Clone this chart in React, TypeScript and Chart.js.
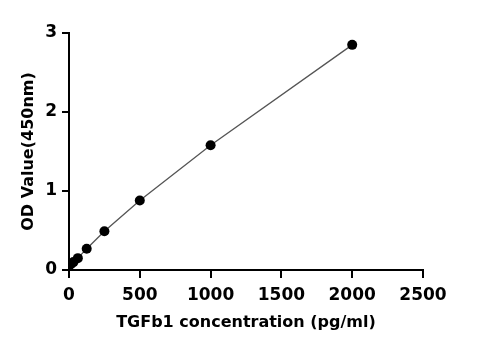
import React, { useEffect, useRef } from "react";
import { Chart, registerables } from "chart.js";

Chart.register(...registerables);

// Standard curve: TGFb1 concentration (pg/ml) vs. optical density at 450 nm
const concentrations = [0, 15.63, 31.25, 62.5, 125, 250, 500, 1000, 2000];
const odValues = [0.05, 0.08, 0.1, 0.15, 0.27, 0.49, 0.88, 1.58, 2.85];

const xTicks = [0, 500, 1000, 1500, 2000, 2500];
const yTicks = [0, 1, 2, 3];

const xTitle = "TGFb1 concentration (pg/ml)";
const yTitle = "OD Value(450nm)";

const FONT = "'DejaVu Sans', 'Liberation Sans', Arial, sans-serif";

// Outward tick marks on both axes, placed through the scales
const tickMarks = {
  id: "tickMarks",
  afterDatasetsDraw(chart: any) {
    const { ctx, chartArea, scales } = chart;
    ctx.save();
    ctx.strokeStyle = "#000";
    ctx.lineWidth = 2;
    ctx.beginPath();
    for (const t of scales.x.ticks) {
      const px = Math.round(scales.x.getPixelForValue(t.value));
      ctx.moveTo(px, chartArea.bottom);
      ctx.lineTo(px, chartArea.bottom + 8);
    }
    for (const t of scales.y.ticks) {
      const py = Math.round(scales.y.getPixelForValue(t.value));
      ctx.moveTo(chartArea.left, py);
      ctx.lineTo(chartArea.left - 7, py);
    }
    ctx.stroke();
    ctx.restore();
  },
};

export default function App() {
  const canvasRef = useRef<HTMLCanvasElement | null>(null);

  useEffect(() => {
    if (!canvasRef.current) return;
    const points = concentrations.map((c, i) => ({ x: c, y: odValues[i] }));
    const chart = new Chart(canvasRef.current, {
      type: "scatter",
      data: {
        datasets: [
          {
            data: points,
            showLine: true,
            borderColor: "#555555",
            borderWidth: 1.3,
            backgroundColor: "#000000",
            pointBackgroundColor: "#000000",
            pointBorderColor: "#000000",
            pointRadius: 5,
            pointBorderWidth: 0,
            tension: 0,
          },
        ],
      },
      plugins: [tickMarks],
      options: {
        responsive: false,
        animation: false,
        layout: { padding: { left: 0, right: 55, top: 33, bottom: 0 } },
        plugins: { legend: { display: false }, tooltip: { enabled: false } },
        scales: {
          x: {
            type: "linear",
            min: xTicks[0],
            max: xTicks[xTicks.length - 1],
            afterBuildTicks: (scale: any) => {
              scale.ticks = xTicks.map((v) => ({ value: v }));
            },
            afterFit: (scale: any) => {
              scale.height = 80;
            },
            ticks: {
              color: "#000",
              padding: 7,
              callback: (v: any) => String(v),
              font: { family: FONT, size: 17, weight: "bold" },
            },
            grid: { display: false },
            border: { display: true, color: "#000", width: 2 },
            title: {
              display: true,
              text: xTitle,
              color: "#000",
              padding: { top: 0, bottom: 18 },
              font: { family: FONT, size: 16, weight: "bold" },
            },
          },
          y: {
            type: "linear",
            min: yTicks[0],
            max: yTicks[yTicks.length - 1],
            afterBuildTicks: (scale: any) => {
              scale.ticks = yTicks.map((v) => ({ value: v }));
            },
            afterFit: (scale: any) => {
              scale.width = 69;
            },
            ticks: {
              color: "#000",
              padding: 4,
              callback: (v: any) => String(v),
              font: { family: FONT, size: 17, weight: "bold" },
            },
            grid: { display: false },
            border: { display: true, color: "#000", width: 2 },
            title: {
              display: true,
              text: yTitle,
              color: "#000",
              padding: { top: 19, bottom: 0 },
              font: { family: FONT, size: 16, weight: "bold" },
            },
          },
        },
      },
    });
    return () => chart.destroy();
  }, []);

  return (
    <div style={{ position: "absolute", left: 0, top: 0, width: 478, height: 350, background: "#fff" }}>
      <canvas ref={canvasRef} width={478} height={350} />
    </div>
  );
}
